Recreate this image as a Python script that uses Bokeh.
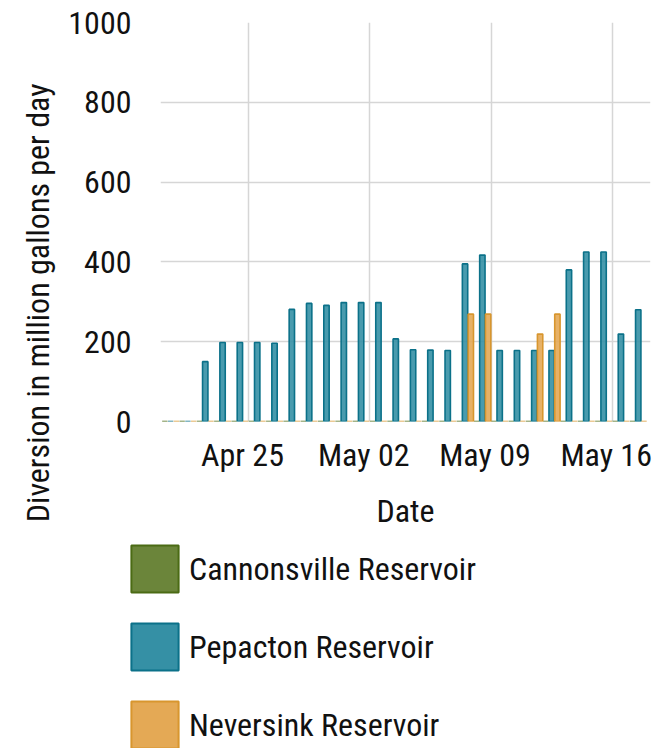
import pandas as pd
from bokeh.plotting import figure
from bokeh.models import (ColumnDataSource, Range1d, FixedTicker, Legend, LegendItem, Title)
from bokeh.transform import dodge
from bokeh.embed import file_html
from bokeh.resources import INLINE

# ---- data ----
dates = pd.date_range("2025-04-20", periods=28, freq="D")
cannonsville = [0, 0, 0, 0, 0, 0, 0, 0, 0, 0, 0, 0, 0, 0,
                0, 0, 0, 0, 0, 0, 0, 0, 0, 0, 0, 0, 0, 0]
pepacton = [0, 0, 150, 198, 198, 198, 196, 281, 296, 291, 298, 298, 298, 207,
            180, 179, 178, 395, 417, 178, 178, 178, 178, 380, 425, 425, 219, 280]
neversink = [0, 0, 0, 0, 0, 0, 0, 0, 0, 0, 0, 0, 0, 0,
             0, 0, 0, 269, 269, 0, 0, 219, 269, 0, 0, 0, 0, 0]
tick_dates = ["2025-04-25", "2025-05-02", "2025-05-09", "2025-05-16"]
tick_labels = ["Apr 25", "May 02", "May 09", "May 16"]
series_names = ["Cannonsville Reservoir", "Pepacton Reservoir", "Neversink Reservoir"]
y_ticks = [0, 200, 400, 600, 800, 1000]

DAY = 86400000
src = ColumnDataSource(dict(
    x=dates + pd.Timedelta(hours=12),
    cannonsville=cannonsville, pepacton=pepacton, neversink=neversink))

FONT = "Roboto Condensed, Liberation Sans Narrow, DejaVu Sans Condensed, sans-serif"
TXT = "#111111"
FS = "32px"

p = figure(width=654, height=540, output_backend="svg", toolbar_location=None,
           x_axis_type="datetime",
           x_range=Range1d(pd.Timestamp("2025-04-20") - pd.Timedelta(hours=2),
                           pd.Timestamp("2025-05-18") + pd.Timedelta(hours=5)),
           y_range=Range1d(0, 1000),
           min_border_left=160, min_border_right=4, min_border_top=22,
           min_border_bottom=119)
p.outline_line_color = None
p.background_fill_color = "white"

w = DAY * 0.31
fills = ["#6b853a", "#3590a5", "#e4a955"]
lines = ["#4b6b14", "#0b7189", "#d8962e"]
cols = ["cannonsville", "pepacton", "neversink"]
offs = [-DAY / 3, 0, DAY / 3]
for c, o, f, l in zip(cols, offs, fills, lines):
    p.vbar(x=dodge("x", o, range=p.x_range), top=c, bottom=0, width=w, source=src,
           fill_color=f, fill_alpha=0.9, line_color=l, line_width=1.6)

grid_ms = [pd.Timestamp(d).value // 10**6 for d in tick_dates]
label_ms = [int(t - DAY * 0.35) for t in grid_ms]
p.xaxis.ticker = FixedTicker(ticks=label_ms)
p.xaxis.major_label_overrides = {t: s for t, s in zip(label_ms, tick_labels)}
p.xgrid.ticker = FixedTicker(ticks=grid_ms)
p.yaxis.ticker = FixedTicker(ticks=y_ticks)

for ax in (p.xaxis[0], p.yaxis[0]):
    ax.axis_line_color = None
    ax.major_tick_line_color = None
    ax.minor_tick_line_color = None
    ax.major_tick_out = 0
    ax.major_tick_in = 0
    ax.minor_tick_out = 0
    ax.major_label_text_font = FONT
    ax.major_label_text_font_size = FS
    ax.major_label_text_color = TXT
    ax.axis_label_text_font = FONT
    ax.axis_label_text_font_size = FS
    ax.axis_label_text_font_style = "normal"
    ax.axis_label_text_color = TXT

p.xaxis.axis_label = "Date"
p.xaxis.major_label_standoff = 14
p.xaxis.axis_label_standoff = 15
p.yaxis.major_label_standoff = 29

ytitle = Title(text="Diversion in million gallons per day", align="right", offset=61,
               standoff=18, text_font=FONT, text_font_size="32px", text_font_style="normal",
               text_color=TXT)
p.add_layout(ytitle, "left")

p.xgrid.grid_line_color = "#d6d6d6"
p.ygrid.grid_line_color = "#d6d6d6"
p.xgrid.grid_line_width = 1.5
p.ygrid.grid_line_width = 1.5

# ---- legend panel (hidden copies of the series; only the legend is seen) ----
lg = figure(width=654, height=208, output_backend="svg", toolbar_location=None,
            x_axis_location=None, y_axis_location=None,
            x_range=Range1d(0, 1), y_range=Range1d(0, 1),
            min_border=0, min_border_left=0, min_border_right=0,
            min_border_top=0, min_border_bottom=0)
lg.outline_line_color = None
lg.grid.visible = False
items = []
for n, c, f, l in zip(series_names, cols, fills, lines):
    r = lg.vbar(x="x", top=c, width=w, source=src,
                fill_color=f, fill_alpha=1.0, line_color=l, line_width=2)
    r.visible = False
    items.append(LegendItem(label=n, renderers=[r]))
legend = Legend(items=items, location=(125, -6), orientation="vertical",
                glyph_width=59, glyph_height=59, spacing=19, padding=0, margin=0,
                label_standoff=5, label_text_font=FONT, label_text_font_size=FS,
                label_text_color=TXT, border_line_color=None, background_fill_alpha=0,
                inactive_fill_alpha=0)
lg.add_layout(legend, "center")

open("out.html", "w").write(file_html([p, lg], INLINE))
